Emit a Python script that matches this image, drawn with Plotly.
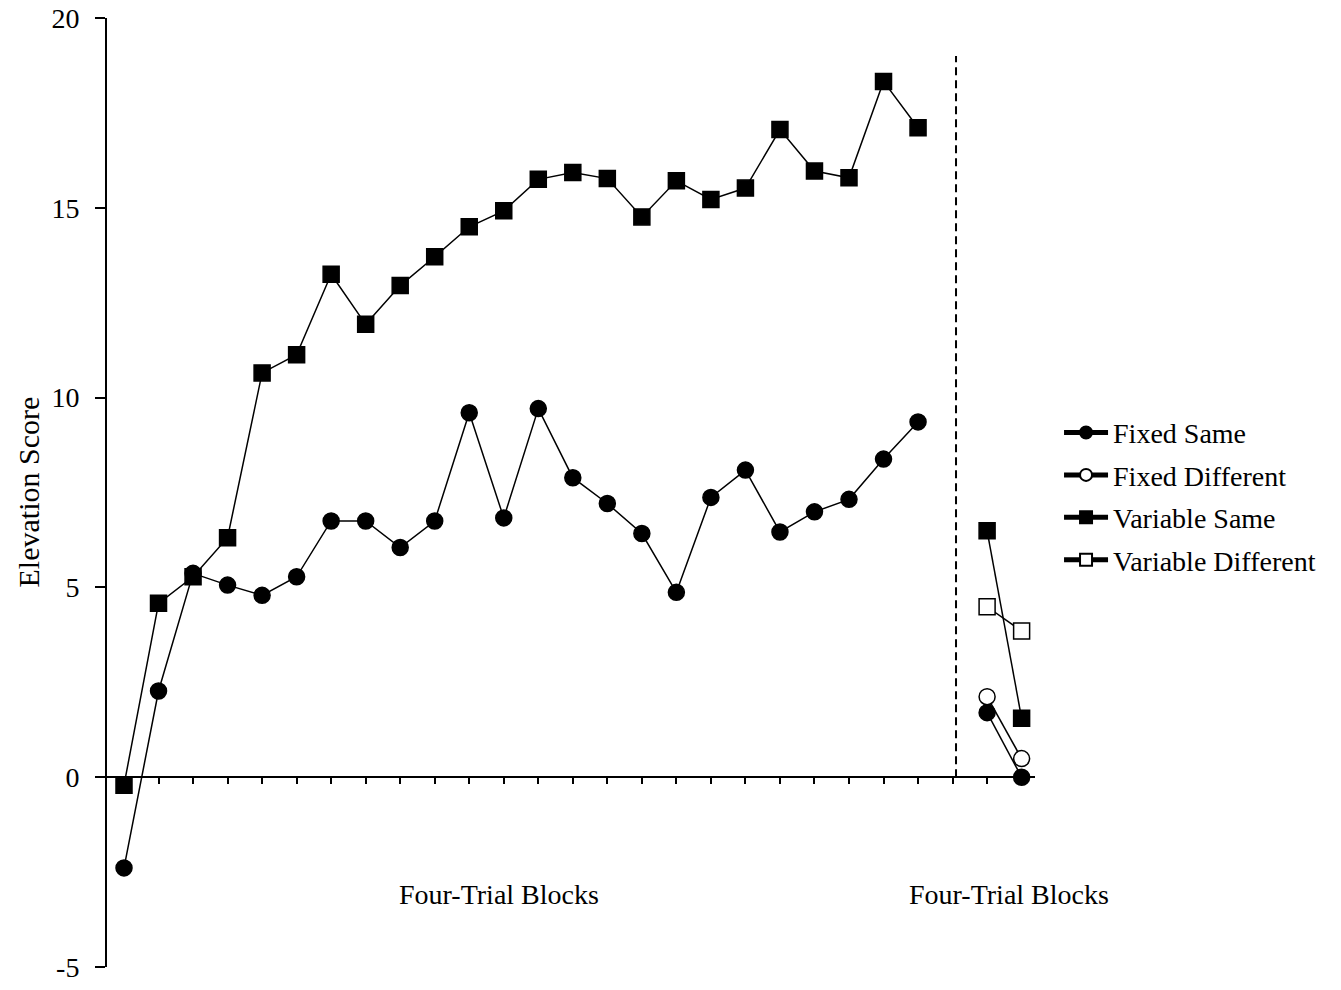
import plotly.graph_objects as go

# ---- data ----
train_blocks = list(range(1, 25))          # acquisition four-trial blocks
test_blocks = [26, 27]                     # test four-trial blocks
divider_block = 25

fixed_same_train = [-2.39, 2.27, 5.37, 5.06, 4.79, 5.28, 6.75, 6.75, 6.05, 6.75, 9.60, 6.83,
                    9.71, 7.89, 7.21, 6.42, 4.87, 7.37, 8.09, 6.46, 6.99, 7.32, 8.38, 9.36]
variable_same_train = [-0.21, 4.58, 5.28, 6.31, 10.65, 11.13, 13.25, 11.93, 12.95, 13.71, 14.50, 14.92,
                       15.75, 15.93, 15.77, 14.76, 15.71, 15.22, 15.52, 17.06, 15.97, 15.79, 18.33, 17.11]

fixed_same_test = [1.70, 0.0]
fixed_diff_test = [2.12, 0.49]
variable_same_test = [6.49, 1.55]
variable_diff_test = [4.49, 3.85]

series_names = ["Fixed Same", "Fixed Different", "Variable Same", "Variable Different"]
y_tick_vals = [-5, 0, 5, 10, 15, 20]
y_tick_text = ["-5", "0", "5", "10", "15", "20"]
x_title = "Four-Trial Blocks"
y_title = "Elevation Score"

FONT = "Liberation Serif"
FS = 28

x_all = train_blocks + [divider_block] + test_blocks

fig = go.Figure()

def add(name, x, y, symbol, fill):
    fig.add_trace(go.Scatter(
        x=x, y=y, name=name, mode="lines+markers", legendgroup=name,
        line=dict(color="black", width=1.5),
        marker=dict(symbol=symbol, size=16, color=fill, line=dict(color="black", width=1.5)),
        connectgaps=False,
    ))

add(series_names[0], x_all, fixed_same_train + [None] + fixed_same_test, "circle", "black")
add(series_names[1], test_blocks, fixed_diff_test, "circle", "white")
add(series_names[2], x_all, variable_same_train + [None] + variable_same_test, "square", "black")
add(series_names[3], test_blocks, variable_diff_test, "square", "white")

px_per_unit = 928 / 26.88
x_lo = 1 - 17 / px_per_unit
x_hi = x_lo + 26.88

fig.add_shape(type="line", xref="x", yref="y", x0=divider_block + 0.1, x1=divider_block + 0.1,
              y0=0, y1=19, line=dict(color="black", width=2, dash="8px,5px"))

fig.add_annotation(text=x_title, xref="x", yref="y", x=11.85, y=-3.1, showarrow=False,
                   font=dict(family=FONT, size=FS, color="black"))
fig.add_annotation(text=x_title, xref="x", yref="y", x=26.64, y=-3.1, showarrow=False,
                   font=dict(family=FONT, size=FS, color="black"))
fig.add_annotation(text=y_title, xref="paper", yref="paper", x=0, y=0.5, xshift=-79,
                   textangle=-90, showarrow=False, xanchor="center", yanchor="middle",
                   font=dict(family=FONT, size=30, color="black"))

fig.update_layout(
    template="none",
    width=1341, height=990,
    margin=dict(l=107, r=306, t=18, b=23, autoexpand=False),
    plot_bgcolor="white", paper_bgcolor="white",
    font=dict(family=FONT, size=FS, color="black"),
    showlegend=True,
    legend=dict(x=1.0259, y=0.496, xanchor="left", yanchor="middle", xref="paper",
                font=dict(family=FONT, size=FS, color="black"), itemwidth=44,
                itemsizing="constant", tracegroupgap=3, bgcolor="rgba(0,0,0,0)"),
    xaxis=dict(range=[x_lo, x_hi], anchor="free", position=0.2, automargin=False,
               showline=True, linecolor="black", linewidth=2,
               ticks="outside", ticklen=6, tickwidth=2, tickcolor="black",
               tickvals=x_all, showticklabels=False, showgrid=False, zeroline=False),
    yaxis=dict(range=[-5, 20], showline=True, linecolor="black", linewidth=2, automargin=False,
               ticks="outside", ticklen=10, tickwidth=2, tickcolor="black",
               tickvals=y_tick_vals, ticktext=y_tick_text, ticklabelstandoff=10,
               ticklabeloverflow="allow",
               showgrid=False, zeroline=False),
)

fig.write_html("out.html",
               config={"displayModeBar": False},
               post_script="document.body.style.margin='0';document.body.style.overflow='hidden';")
